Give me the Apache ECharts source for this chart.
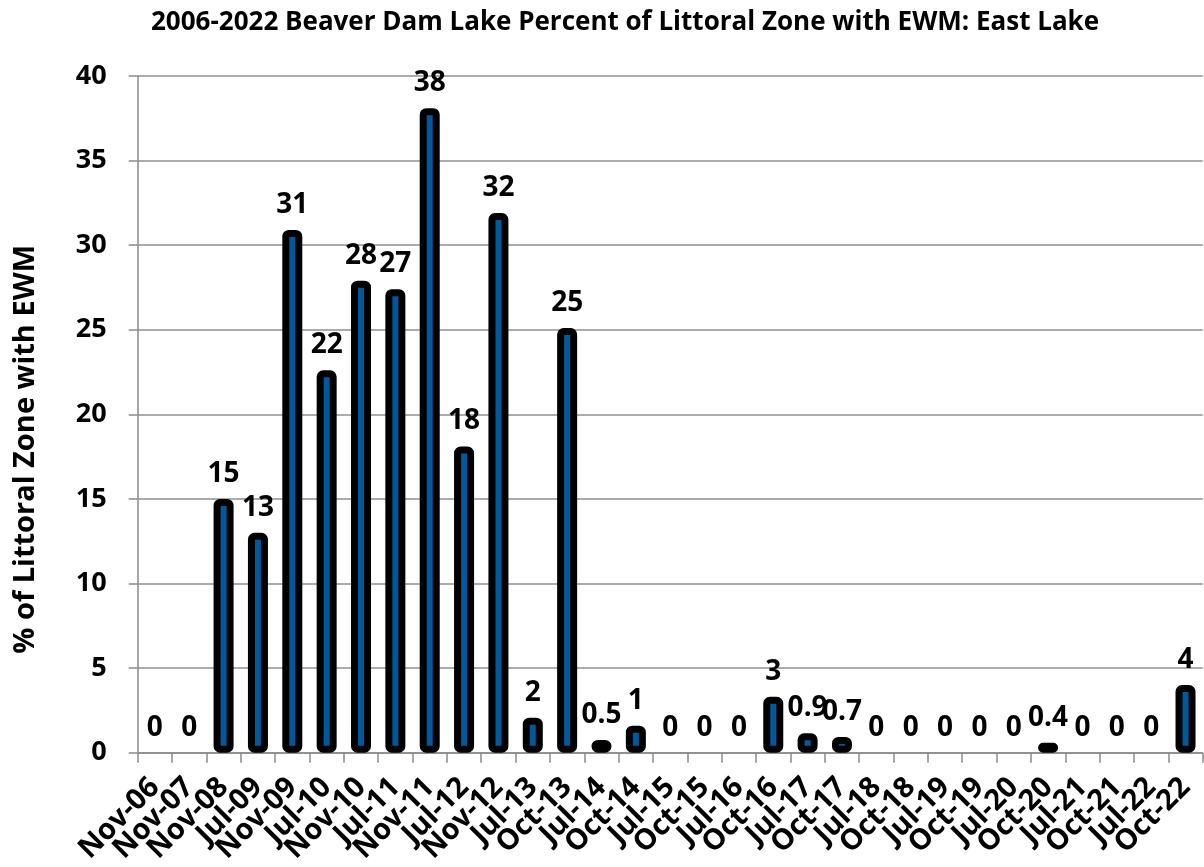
<!DOCTYPE html>
<html>
<head>
<meta charset="utf-8">
<script src="https://cdn.jsdelivr.net/npm/echarts@6/dist/echarts.min.js"></script>
<style>
  html, body { margin: 0; padding: 0; background: #fff; }
  #chart { width: 1204px; height: 867px; }
</style>
</head>
<body>
<div id="chart"></div>
<script>
const categories = ['Nov-06','Nov-07','Nov-08','Jul-09','Nov-09','Jul-10','Nov-10','Jul-11','Nov-11','Jul-12','Nov-12','Jul-13','Oct-13','Jul-14','Oct-14','Jul-15','Oct-15','Jul-16','Oct-16','Jul-17','Oct-17','Jul-18','Oct-18','Jul-19','Oct-19','Jul-20','Oct-20','Jul-21','Oct-21','Jul-22','Oct-22'];
const values = [0, 0, 15.0, 13.0, 30.9, 22.6, 27.9, 27.4, 38.1, 18.1, 31.9, 2.07, 25.1, 0.75, 1.6, 0, 0, 0, 3.3, 1.15, 0.93, 0, 0, 0, 0, 0, 0.59, 0, 0, 0, 4.0];
const valueLabels = ['0','0','15','13','31','22','28','27','38','18','32','2','25','0.5','1','0','0','0','3','0.9','0.7','0','0','0','0','0','0.4','0','0','0','4'];
const yTicks = { min: 0, max: 40, interval: 5 };

const chart = echarts.init(document.getElementById('chart'), null, { renderer: 'canvas' });
const FONT = 'Open Sans';
chart.setOption({
  animation: false,
  backgroundColor: '#ffffff',
  title: {
    text: '2006-2022 Beaver Dam Lake Percent of Littoral Zone with EWM: East Lake',
    left: 146, top: 5,
    textStyle: { fontFamily: FONT, fontWeight: 'bold', fontSize: 26, color: '#000' }
  },
  grid: { left: 137.7, right: 1.3, top: 76, bottom: 114.3, containLabel: false },
  xAxis: {
    type: 'category',
    data: categories,
    boundaryGap: true,
    axisLine: { lineStyle: { color: '#8a8a8a', width: 1.5 } },
    axisTick: { show: true, length: 10, alignWithLabel: false, lineStyle: { color: '#8a8a8a', width: 1.5 } },
    axisLabel: { rotate: 45, interval: 0, margin: 30, fontFamily: FONT, fontWeight: 'bold', fontSize: 29, color: '#000' }
  },
  yAxis: {
    type: 'value',
    min: yTicks.min, max: yTicks.max, interval: yTicks.interval,
    name: '% of Littoral Zone with EWM',
    nameLocation: 'middle',
    nameGap: 97,
    nameTextStyle: { fontFamily: FONT, fontWeight: 'bold', fontSize: 29, color: '#000', padding: [0, 70, 0, 0] },
    axisLine: { show: true, lineStyle: { color: '#8a8a8a', width: 1.5 } },
    axisTick: { show: true, length: 9, lineStyle: { color: '#8a8a8a', width: 1.5 } },
    axisLabel: { margin: 31, fontFamily: FONT, fontWeight: 'bold', fontSize: 27, color: '#000' },
    splitLine: { show: true, lineStyle: { color: '#8f8f8f', width: 1.5 } }
  },
  series: [{
    type: 'bar',
    data: values.map(v => v === 0 ? { value: v, itemStyle: { color: 'rgba(0,0,0,0)', borderWidth: 0 } } : v),
    barWidth: 20,
    itemStyle: { color: '#00599c', borderColor: '#000', borderWidth: 7, borderRadius: 3 },
    label: {
      show: true, position: 'top', distance: 11,
      formatter: p => valueLabels[p.dataIndex],
      fontFamily: FONT, fontWeight: 'bold', fontSize: 28, color: '#000'
    }
  }]
});
</script>
</body>
</html>
